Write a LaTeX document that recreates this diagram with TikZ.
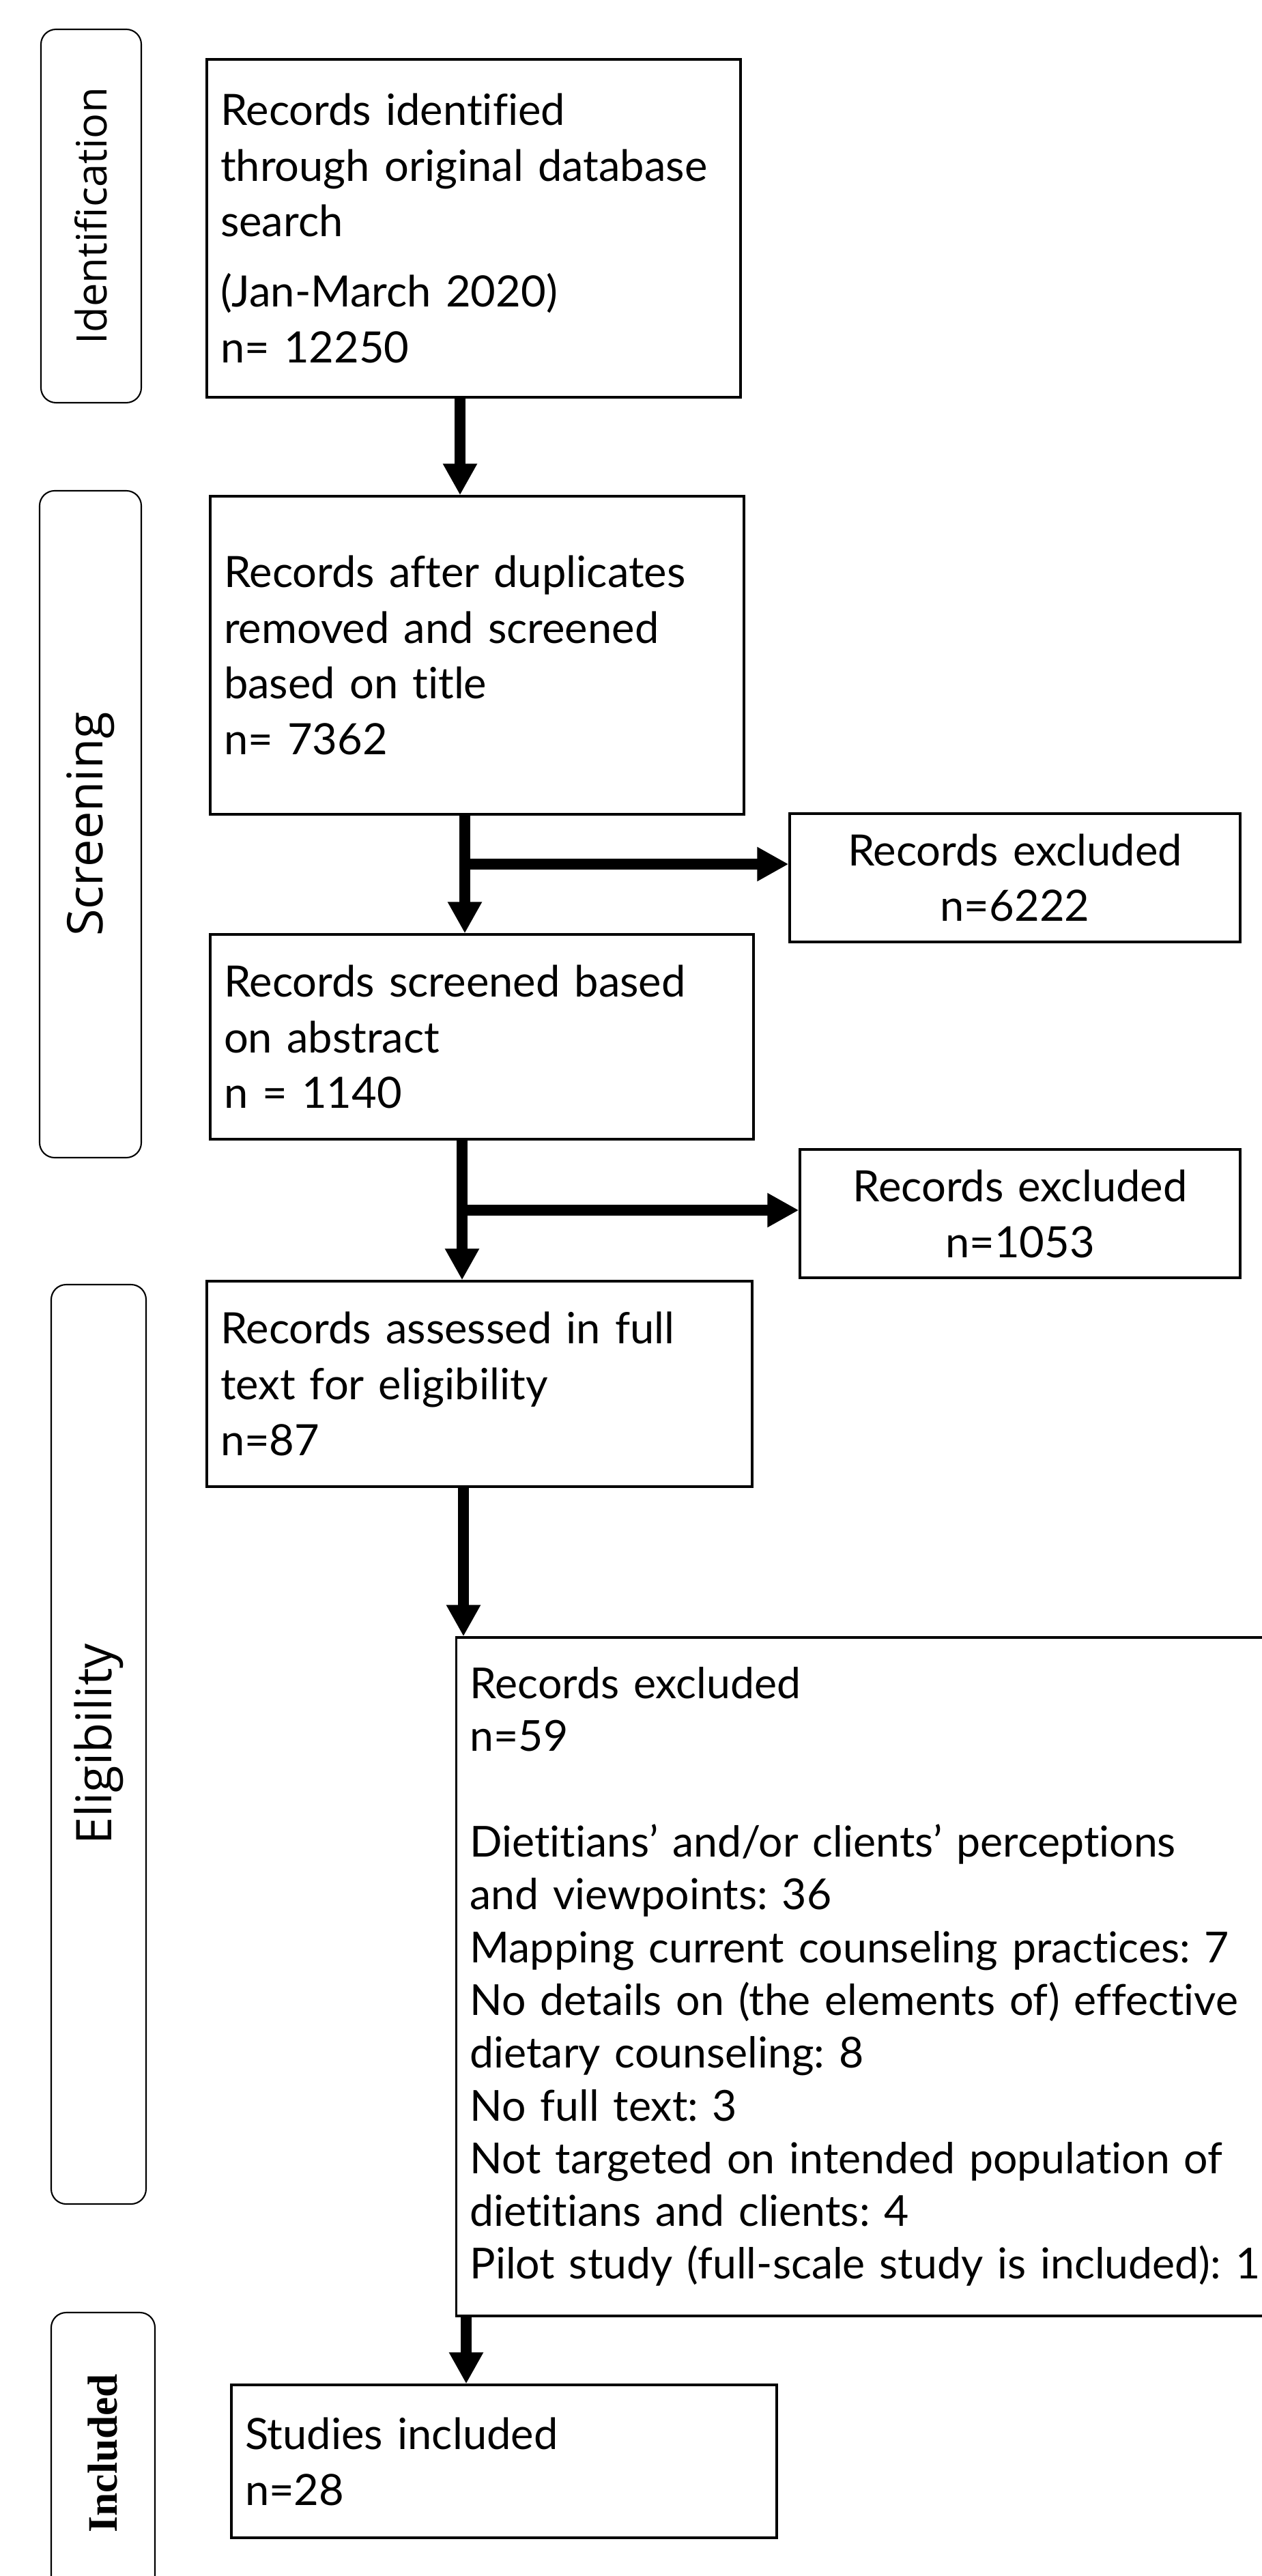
\documentclass[tikz,border=0pt]{standalone}
\usepackage{fontspec}
\setmainfont{Lato}[Ligatures=NoCommon]
\newfontfamily\sidefont{Open Sans}
\newfontfamily\inclfont{Liberation Serif}
\usetikzlibrary{arrows.meta, positioning}
\frenchspacing

\begin{document}
\begin{tikzpicture}[>={Triangle[length=4.6mm, width=4.7mm]},
    box/.style={draw, line width=0.9pt, rectangle, align=left, inner xsep=0.2cm, inner ysep=0pt,
        font=\fontsize{18}{23.3}\selectfont},
    exbox/.style={box, align=center},
    phase/.style={draw, line width=0.6pt, rectangle, rounded corners=0.22cm, inner sep=0pt, rotate=90},
    flow/.style={->, line width=4.4pt}]
    \useasboundingbox (0,0) rectangle (18.48,-37.74);

    % phases
    \node[phase, minimum width=5.47cm, minimum height=1.47cm, font=\sidefont\fontsize{17.5}{20}\selectfont]
        (idph) at (1.335,-3.165) {Identification};
    \node[phase, minimum width=9.77cm, minimum height=1.49cm, font=\sidefont\fontsize{20.5}{24}\selectfont]
        (scph) at (1.325,-12.075) {Screening};
    \node[phase, minimum width=13.47cm, minimum height=1.39cm, font=\sidefont\fontsize{20.5}{24}\selectfont]
        (elph) at (1.445,-25.555) {Eligibility};
    \node[phase, minimum width=4.12cm, minimum height=1.52cm, font=\inclfont\bfseries\fontsize{17.5}{20}\selectfont]
        (inph) at (1.51,-35.94) {Included};

    % flow boxes
    \node[box, text width=7.42cm, minimum height=4.95cm] (ident) at (6.94,-3.345)
        {Records identified\\ through original database\\ search\\[6pt] (Jan-March 2020)\\ n= 12250};
    \node[box, text width=7.42cm, minimum height=4.66cm] (dup) at (6.99,-9.60)
        {Records after duplicates\\ removed and screened\\ based on title\\ n= 7362};
    \node[exbox, text width=6.20cm, minimum height=1.88cm] (ex1) at (14.87,-12.86)
        {Records excluded\\ n=6222};
    \node[box, text width=7.56cm, minimum height=3.00cm] (abs) at (7.06,-15.19)
        {Records screened based\\ on abstract\\ n = 1140};
    \node[exbox, text width=6.05cm, minimum height=1.88cm] (ex2) at (14.945,-17.78)
        {Records excluded\\ n=1053};
    \node[box, text width=7.59cm, minimum height=3.01cm] (full) at (7.025,-20.275)
        {Records assessed in full\\ text for eligibility\\ n=87};
    \node[box, text width=11.9cm, minimum height=9.94cm, anchor=west, font=\fontsize{17.8}{22}\selectfont] (ex3) at (6.67,-28.96)
        {Records excluded\\ n=59\\ \mbox{}\\
         Dietitians’ and/or clients’ perceptions\\ and viewpoints: 36\\
         Mapping current counseling practices: 7\\
         No details on (the elements of) effective\\ dietary counseling: 8\\
         No full text: 3\\
         Not targeted on intended population of\\ dietitians and clients: 4\\
         Pilot study (full-scale study is included): 1};
    \node[box, text width=7.59cm, minimum height=2.24cm] (incl) at (7.385,-36.06)
        {Studies included\\ n=28};

    % arrows
    \coordinate (k1) at (6.74,0);
    \coordinate (j1) at (6.81,-12.66);
    \coordinate (j2) at (6.77,-17.73);
    \coordinate (k4) at (6.79,0);
    \coordinate (k5) at (6.83,0);

    \draw[flow] (ident.south -| k1) -- (dup.north -| k1);
    \draw[flow] (dup.south -| j1) -- (abs.north -| j1);
    \draw[flow] (j1) -- (j1 -| ex1.west);
    \draw[flow] (abs.south -| j2) -- (full.north -| j2);
    \draw[flow] (j2) -- (j2 -| ex2.west);
    \draw[flow] (full.south -| k4) -- (ex3.north -| k4);
    \draw[flow] (ex3.south -| k5) -- (incl.north -| k5);
\end{tikzpicture}
\end{document}
